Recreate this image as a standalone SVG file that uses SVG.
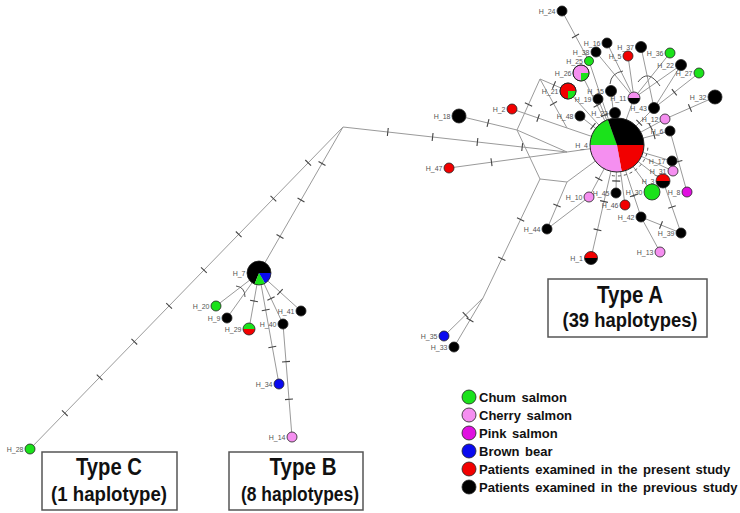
<svg xmlns="http://www.w3.org/2000/svg" width="740" height="513" viewBox="0 0 740 513">
<defs>
<marker id="t" markerUnits="userSpaceOnUse" markerWidth="10" markerHeight="10" refX="5" refY="5" orient="auto" overflow="visible">
<path d="M5,1 V9" stroke="#444" stroke-width="1.1" fill="none"/>
</marker>
<style>
.e{fill:none;stroke:#9a9a9a;stroke-width:1;marker-mid:url(#t)}
.a{fill:none;stroke:#555;stroke-width:1}
.n{stroke:#222;stroke-width:0.8}
.l{font-family:"Liberation Sans",Arial,sans-serif;font-size:7px;fill:#555;text-anchor:end}
.k{fill:#000}.g{fill:#1be21b}.p{fill:#f58ff0}.m{fill:#e010e0}.b{fill:#0a0aef}.r{fill:#f20000}
.box{fill:#fff;stroke:#555;stroke-width:1.5}
.t1{font-family:"Liberation Sans",Arial,sans-serif;font-weight:bold;font-size:23px;fill:#111;text-anchor:middle}
.t2{font-family:"Liberation Sans",Arial,sans-serif;font-weight:bold;font-size:20px;fill:#111;text-anchor:middle}
.lg{font-family:"Liberation Sans",Arial,sans-serif;font-weight:bold;font-size:13px;fill:#111;word-spacing:2px}
</style>
</defs>
<rect width="740" height="513" fill="#fff"/>
<g id="connectors">
<polyline class="e" points="343,127 308.2,162.8 273.4,198.6 238.7,234.3 203.9,270.1 169.1,305.9 134.3,341.7 99.6,377.4 64.8,413.2 30,449"/>
<polyline class="e" points="343,127 322,163.5 301,200 280,236.5 259,273"/>
<polyline class="e" points="343,127 387.8,132 432.6,137 477.4,142 522.2,147 567,152"/>
<line class="e" x1="259" y1="273" x2="216" y2="306"/>
<line class="e" x1="259" y1="273" x2="227" y2="318"/>
<polyline class="e" points="259,273 254,301 249,329"/>
<polyline class="e" points="259,273 271,298.5 283,324"/>
<polyline class="e" points="259,273 280,292 301,311"/>
<polyline class="e" points="259,273 265.7,310 272.3,347 279,384"/>
<polyline class="e" points="283,324 286,361.7 289,399.3 292,437"/>
<path class="a" d="M236,286 Q245,287 245,297"/>
<polyline class="e" points="562,11 575.5,36 589,61"/>
<line class="e" x1="589" y1="61" x2="617" y2="145"/>
<line class="e" x1="596" y1="52" x2="634" y2="98"/>
<line class="e" x1="607" y1="43" x2="634" y2="98"/>
<line class="e" x1="628" y1="56" x2="634" y2="98"/>
<line class="e" x1="670" y1="53" x2="634" y2="98"/>
<line class="e" x1="641" y1="47" x2="654" y2="108"/>
<line class="e" x1="681" y1="65" x2="654" y2="108"/>
<line class="e" x1="681" y1="65" x2="634" y2="98"/>
<polyline class="e" points="699,73 674.3,92.3 654,108"/>
<polyline class="e" points="715,97 690,108 665,119"/>
<path class="a" d="M623,71 Q611,73 610,84"/>
<path class="a" d="M638,82 Q648,68 660,86"/>
<polyline class="e" points="581,73 597.2,105.4 617,145"/>
<line class="e" x1="568" y1="91" x2="617" y2="145"/>
<line class="e" x1="611" y1="91" x2="617" y2="145"/>
<polyline class="e" points="598,99 604.7,115.1 617,145"/>
<line class="e" x1="634" y1="98" x2="617" y2="145"/>
<polyline class="e" points="654,108 639.2,122.8 617,145"/>
<polyline class="e" points="665,119 650.6,126.8 617,145"/>
<polyline class="e" points="580,116 593,126.2 617,145"/>
<line class="e" x1="615" y1="113" x2="617" y2="145"/>
<polyline class="e" points="670,131 654.1,135.2 617,145"/>
<line class="e" x1="672" y1="161" x2="617" y2="145"/>
<line class="e" x1="673" y1="171" x2="617" y2="145"/>
<line class="e" x1="663" y1="181" x2="617" y2="145"/>
<line class="e" x1="652" y1="192" x2="617" y2="145"/>
<polyline class="e" points="616,193 616.2,181 617,145"/>
<polyline class="e" points="589,197 598.8,178.8 617,145"/>
<line class="e" x1="625" y1="205" x2="617" y2="145"/>
<polyline class="e" points="641,217 633.8,195.4 617,145"/>
<polyline class="e" points="591,258 597.5,229.8 604,201.5 617,145"/>
<polyline class="e" points="687,192 678.5,161.5 670,131"/>
<polyline class="e" points="681,233 661,225 641,217"/>
<polyline class="e" points="681,233 672,207 663,181"/>
<line class="e" x1="660" y1="252" x2="641" y2="217"/>
<polyline class="e" points="547,229 557,205.5 567,182"/>
<line class="e" x1="547" y1="229" x2="589" y2="197"/>
<polyline class="e" points="449,168 491.5,162.2 567,152"/>
<polyline class="e" points="459,116 488,123 517,130"/>
<polyline class="e" points="512,109 538.1,118 567,128"/>
<polyline class="e" points="540,79 528.5,104.5 517,130"/>
<polyline class="e" points="540,79 553.5,103.5 567,128"/>
<polyline class="e" points="540,79 554,85 568,91"/>
<line class="e" x1="517" y1="130" x2="540" y2="179"/>
<line class="e" x1="517" y1="130" x2="567" y2="152"/>
<line class="e" x1="540" y1="179" x2="567" y2="182"/>
<line class="e" x1="567" y1="152" x2="617" y2="145"/>
<line class="e" x1="567" y1="128" x2="617" y2="145"/>
<line class="e" x1="567" y1="182" x2="617" y2="145"/>
<polyline class="e" points="483,298 501.8,258.7 520.6,219.5 540,179"/>
<polyline class="e" points="483,298 465.5,315 444,336"/>
<polyline class="e" points="483,298 470,320 454,347"/>
<path class="a" d="M647.88,147.7 A31,31 0 0 1 611.62,175.53" stroke-dasharray="3 3"/>
</g>
<g id="H_4">
<path class="g" d="M617,145 L590,145 A27,27 0 0 1 607.77,119.62 Z"/>
<path class="k" d="M617,145 L607.77,119.62 A27,27 0 0 1 644,145 Z"/>
<path class="r" d="M617,145 L644,145 A27,27 0 0 1 621.69,171.59 Z"/>
<path class="p" d="M617,145 L621.69,171.59 A27,27 0 0 1 590,145 Z"/>
<circle cx="617" cy="145" r="27" fill="none" stroke="#222" stroke-width="1"/>
<text class="l" x="588" y="148">H_4</text>
</g>
<g id="H_24"><circle class="n k" cx="562" cy="11" r="5"/><text class="l" x="555.5" y="13.5">H_24</text></g>
<g id="H_16"><circle class="n k" cx="607" cy="43" r="5"/><text class="l" x="600.5" y="45.5">H_16</text></g>
<g id="H_38"><circle class="n k" cx="596" cy="52" r="5"/><text class="l" x="589.5" y="54.5">H_38</text></g>
<g id="H_25"><circle class="n g" cx="589" cy="61" r="4.5"/><text class="l" x="583" y="63.5">H_25</text></g>
<g id="H_5"><circle class="n r" cx="628" cy="56" r="5"/><text class="l" x="621.5" y="58.5">H_5</text></g>
<g id="H_37"><circle class="n k" cx="641" cy="47" r="5.5"/><text class="l" x="634" y="49.5">H_37</text></g>
<g id="H_36"><circle class="n g" cx="670" cy="53" r="5"/><text class="l" x="663.5" y="55.5">H_36</text></g>
<g id="H_22"><circle class="n k" cx="681" cy="65" r="5.5"/><text class="l" x="674" y="67.5">H_22</text></g>
<g id="H_27"><circle class="n g" cx="699" cy="73" r="5"/><text class="l" x="692.5" y="75.5">H_27</text></g>
<g id="H_32"><circle class="n k" cx="715" cy="97" r="7"/><text class="l" x="706.5" y="99.5">H_32</text></g>
<g id="H_26"><circle class="n p" cx="581" cy="73" r="8"/><path class="g" d="M581,73 L589,73 A8,8 0 0 1 581,81 Z"/><circle cx="581" cy="73" r="8" fill="none" stroke="#222" stroke-width="0.8"/><text class="l" x="571.5" y="75.5">H_26</text></g>
<g id="H_21"><circle class="n r" cx="568" cy="91" r="8"/><path class="g" d="M568,91 L576,91 A8,8 0 0 1 568,99 Z"/><circle cx="568" cy="91" r="8" fill="none" stroke="#222" stroke-width="0.8"/><text class="l" x="558.5" y="93.5">H_21</text></g>
<g id="H_15"><circle class="n k" cx="611" cy="91" r="5.5"/><text class="l" x="604" y="93.5">H_15</text></g>
<g id="H_19"><circle class="n k" cx="598" cy="99" r="5"/><text class="l" x="591.5" y="101.5">H_19</text></g>
<g id="H_11"><path class="p" d="M628,98 A6,6 0 0 1 640,98 Z"/><path class="k" d="M640,98 A6,6 0 0 1 628,98 Z"/><circle cx="634" cy="98" r="6" fill="none" stroke="#222" stroke-width="0.8"/><text class="l" x="626.5" y="100.5">H_11</text></g>
<g id="H_43"><circle class="n k" cx="654" cy="108" r="5.5"/><text class="l" x="647" y="110.5">H_43</text></g>
<g id="H_12"><circle class="n p" cx="665" cy="119" r="5"/><text class="l" x="658.5" y="121.5">H_12</text></g>
<g id="H_48"><circle class="n k" cx="580" cy="116" r="5"/><text class="l" x="573.5" y="118.5">H_48</text></g>
<g id="H_23"><circle class="n k" cx="615" cy="113" r="5.5"/><text class="l" x="608" y="115.5">H_23</text></g>
<g id="H_6"><circle class="n k" cx="670" cy="131" r="5"/><text class="l" x="663.5" y="133.5">H_6</text></g>
<g id="H_17"><circle class="n k" cx="672" cy="161" r="5"/><text class="l" x="665.5" y="163.5">H_17</text></g>
<g id="H_31"><circle class="n p" cx="673" cy="171" r="5"/><text class="l" x="666.5" y="173.5">H_31</text></g>
<g id="H_3"><path class="r" d="M656,181 A7,7 0 0 1 670,181 Z"/><path class="k" d="M670,181 A7,7 0 0 1 656,181 Z"/><circle cx="663" cy="181" r="7" fill="none" stroke="#222" stroke-width="0.8"/><text class="l" x="654.5" y="183.5">H_3</text></g>
<g id="H_30"><circle class="n g" cx="652" cy="192" r="8"/><text class="l" x="642.5" y="194.5">H_30</text></g>
<g id="H_8"><circle class="n m" cx="687" cy="192" r="5"/><text class="l" x="680.5" y="194.5">H_8</text></g>
<g id="H_45"><circle class="n k" cx="616" cy="193" r="5"/><text class="l" x="609.5" y="195.5">H_45</text></g>
<g id="H_10"><circle class="n p" cx="589" cy="197" r="5"/><text class="l" x="582.5" y="199.5">H_10</text></g>
<g id="H_46"><circle class="n r" cx="625" cy="205" r="5"/><text class="l" x="618.5" y="207.5">H_46</text></g>
<g id="H_42"><circle class="n k" cx="641" cy="217" r="5"/><text class="l" x="634.5" y="219.5">H_42</text></g>
<g id="H_39"><circle class="n k" cx="681" cy="233" r="5"/><text class="l" x="674.5" y="235.5">H_39</text></g>
<g id="H_13"><circle class="n p" cx="660" cy="252" r="5"/><text class="l" x="653.5" y="254.5">H_13</text></g>
<g id="H_1"><path class="r" d="M584.5,258 A6.5,6.5 0 0 1 597.5,258 Z"/><path class="k" d="M597.5,258 A6.5,6.5 0 0 1 584.5,258 Z"/><circle cx="591" cy="258" r="6.5" fill="none" stroke="#222" stroke-width="0.8"/><text class="l" x="583" y="260.5">H_1</text></g>
<g id="H_44"><circle class="n k" cx="547" cy="229" r="5"/><text class="l" x="540.5" y="231.5">H_44</text></g>
<g id="H_47"><circle class="n r" cx="449" cy="168" r="5"/><text class="l" x="442.5" y="170.5">H_47</text></g>
<g id="H_18"><circle class="n k" cx="459" cy="116" r="7"/><text class="l" x="450.5" y="118.5">H_18</text></g>
<g id="H_2"><circle class="n r" cx="512" cy="109" r="5"/><text class="l" x="505.5" y="111.5">H_2</text></g>
<g id="H_35"><circle class="n b" cx="444" cy="336" r="5"/><text class="l" x="437.5" y="338.5">H_35</text></g>
<g id="H_33"><circle class="n k" cx="454" cy="347" r="5"/><text class="l" x="447.5" y="349.5">H_33</text></g>
<g id="H_7">
<path class="k" d="M259,273 L254.5,284.13 A12,12 0 1 1 271,273 Z"/>
<path class="b" d="M259,273 L271,273 A12,12 0 0 1 265,283.39 Z"/>
<path class="g" d="M259,273 L265,283.39 A12,12 0 0 1 254.5,284.13 Z"/>
<circle cx="259" cy="273" r="12" fill="none" stroke="#222" stroke-width="0.8"/>
<text class="l" x="245.5" y="275.5">H_7</text>
</g>
<g id="H_20"><circle class="n g" cx="216" cy="306" r="5"/><text class="l" x="209.5" y="308.5">H_20</text></g>
<g id="H_9"><circle class="n k" cx="227" cy="318" r="5"/><text class="l" x="220.5" y="320.5">H_9</text></g>
<g id="H_29"><path class="g" d="M243,329 A6,6 0 0 1 255,329 Z"/><path class="r" d="M255,329 A6,6 0 0 1 243,329 Z"/><circle cx="249" cy="329" r="6" fill="none" stroke="#222" stroke-width="0.8"/><text class="l" x="241.5" y="331.5">H_29</text></g>
<g id="H_40"><circle class="n k" cx="283" cy="324" r="5"/><text class="l" x="276.5" y="326.5">H_40</text></g>
<g id="H_41"><circle class="n k" cx="301" cy="311" r="5"/><text class="l" x="294.5" y="313.5">H_41</text></g>
<g id="H_34"><circle class="n b" cx="279" cy="384" r="5"/><text class="l" x="272.5" y="386.5">H_34</text></g>
<g id="H_14"><circle class="n p" cx="292" cy="437" r="5"/><text class="l" x="285.5" y="439.5">H_14</text></g>
<g id="H_28"><circle class="n g" cx="30" cy="449" r="5"/><text class="l" x="23.5" y="451.5">H_28</text></g>
<g id="typeA">
<rect class="box" x="548" y="279" width="159" height="58"/>
<text class="t1" x="630" y="303" textLength="66" lengthAdjust="spacingAndGlyphs">Type A</text>
<text class="t2" x="630" y="327" textLength="135" lengthAdjust="spacingAndGlyphs">(39 haplotypes)</text>
</g>
<g id="typeB">
<rect class="box" x="229" y="452" width="134" height="58"/>
<text class="t1" x="303" y="475" textLength="67" lengthAdjust="spacingAndGlyphs">Type B</text>
<text class="t2" x="300" y="501" textLength="118" lengthAdjust="spacingAndGlyphs">(8 haplotypes)</text>
</g>
<g id="typeC">
<rect class="box" x="42" y="452" width="135" height="58"/>
<text class="t1" x="109" y="475" textLength="66" lengthAdjust="spacingAndGlyphs">Type C</text>
<text class="t2" x="109" y="501" textLength="116" lengthAdjust="spacingAndGlyphs">(1 haplotype)</text>
</g>
<g id="legend">
<circle class="n g" cx="469" cy="397" r="7"/><text class="lg" x="479" y="401.5">Chum salmon</text>
<circle class="n p" cx="469" cy="415" r="7"/><text class="lg" x="479" y="419.5">Cherry salmon</text>
<circle class="n m" cx="469" cy="433" r="7"/><text class="lg" x="479" y="437.5">Pink salmon</text>
<circle class="n b" cx="469" cy="451" r="7"/><text class="lg" x="479" y="455.5">Brown bear</text>
<circle class="n r" cx="469" cy="469" r="7"/><text class="lg" x="479" y="473.5">Patients examined in the present study</text>
<circle class="n k" cx="469" cy="487" r="7"/><text class="lg" x="479" y="491.5">Patients examined in the previous study</text>
</g>
</svg>
